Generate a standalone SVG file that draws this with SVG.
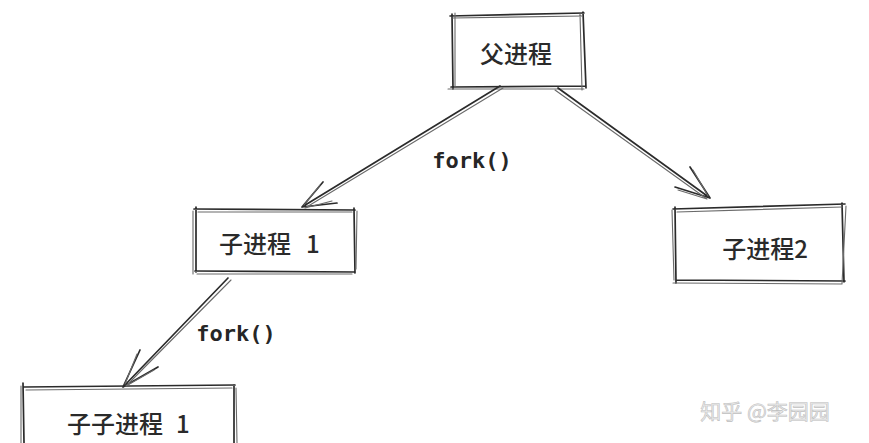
<svg xmlns="http://www.w3.org/2000/svg" width="869" height="443" viewBox="0 0 869 443">
<style>
.s1{fill:none;stroke:#2b2b2b;stroke-width:1.7;stroke-linecap:round;stroke-linejoin:round}
.s2{fill:none;stroke:#6a6a6a;stroke-width:1.1;stroke-linecap:round;stroke-linejoin:round}
.lbl{font-family:"Noto Sans CJK SC","Noto Sans",sans-serif;font-size:24px;font-weight:500;fill:#2a2a2a;dominant-baseline:central}
.mid{text-anchor:middle}
.code{font-family:"DejaVu Sans Mono","Liberation Mono",monospace;font-size:22px;font-weight:bold;fill:#262626;text-anchor:middle;dominant-baseline:central}
.wm{font-family:"Noto Sans CJK SC",sans-serif;font-size:21px;fill:#ececec;stroke:#c0c0c0;stroke-width:0.6;text-anchor:middle;dominant-baseline:central}
</style>
<rect width="869" height="443" fill="#ffffff"/>

<g id="parent">
<path class="s1" d="M450 16 L584 13 M452 14 L453 89 M583 12 L586 88 M451 87 L586 86"/>
<path class="s2" d="M453 18 L582 16 M455 13 L455 86 M580 14 L582 90 M448 89 L584 89"/>
<text class="lbl mid" x="516" y="52">父进程</text>
</g>

<g id="child1">
<path class="s1" d="M194 209 L355 210 M196 207 L196 272 M354 208 L355 273 M195 271 L355 272"/>
<path class="s2" d="M198 212 L352 212 M193 211 L193 274 M357 211 L356 269 M197 274 L352 274"/>
<text class="lbl" x="219" y="242">子进程 <tspan x="306">1</tspan></text>
</g>

<g id="child2">
<path class="s1" d="M673 209 L845 204 M675 207 L676 283 M842 203 L844 282 M676 280 L845 281"/>
<path class="s2" d="M677 212 L842 207 M672 210 L674 280 M846 206 L842 284 M673 283 L842 284"/>
<text class="lbl mid" x="765" y="247">子进程2</text>
</g>

<g id="grandchild">
<path class="s1" d="M24 387 L235 385 M23 383 L24 443 M234 385 L234 443"/>
<path class="s2" d="M26 390 L232 388 M21 386 L21 443 M236 388 L237 443"/>
<text class="lbl" x="67" y="422">子子进程 <tspan x="176">1</tspan></text>
</g>

<g id="connectors">
<path class="s1" d="M500 86 L302 207 M302 207 L323 182 M302 207 L337 203"/>
<path class="s2" d="M503 88 L305 208 M304 205 L320 185 M305 208 L332 201"/>
<path class="s1" d="M558 88 L710 198 M710 198 L690 167 M710 198 L675 187"/>
<path class="s2" d="M555 90 L707 199 M708 196 L693 170 M707 199 L678 190"/>
<path class="s1" d="M228 278 L123 387 M123 387 L140 350 M123 387 L158 367"/>
<path class="s2" d="M231 280 L126 386 M125 384 L137 354 M126 386 L154 370"/>
<text class="code" x="472" y="160">fork()</text>
<text class="code" x="236" y="333">fork()</text>
</g>

<text class="wm" x="765" y="410">知乎 @李园园</text>
</svg>
